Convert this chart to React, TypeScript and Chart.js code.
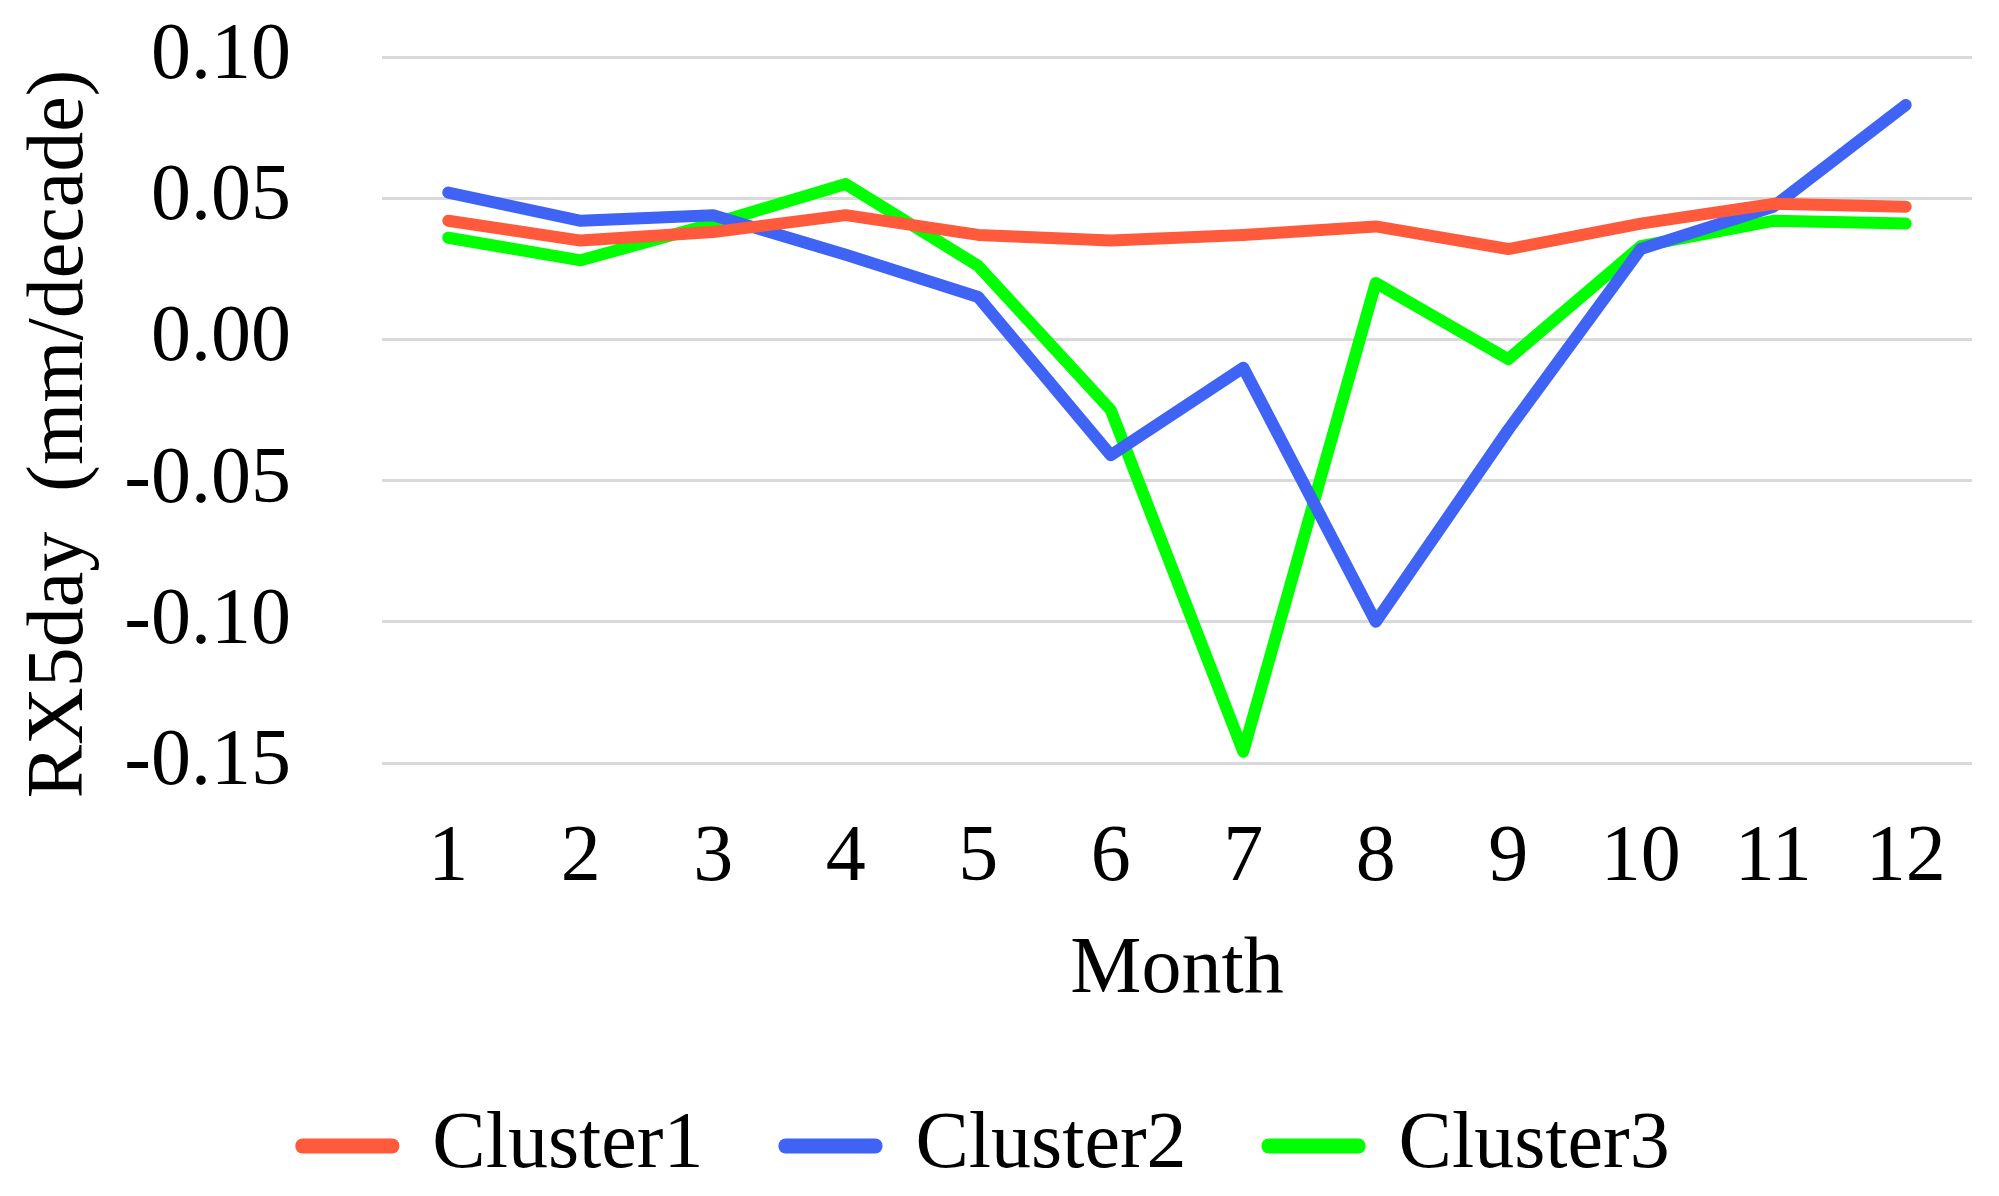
import React, { useEffect, useRef } from "react";
import { Chart, registerables } from "chart.js";

Chart.register(...registerables);

const months = ["1", "2", "3", "4", "5", "6", "7", "8", "9", "10", "11", "12"];
const cluster1 = [0.042, 0.035, 0.038, 0.044, 0.037, 0.035, 0.037, 0.040, 0.032, 0.041, 0.048, 0.047];
const cluster2 = [0.052, 0.042, 0.044, 0.030, 0.015, -0.041, -0.010, -0.100, -0.032, 0.032, 0.047, 0.083];
const cluster3 = [0.036, 0.028, 0.041, 0.055, 0.026, -0.025, -0.146, 0.020, -0.007, 0.033, 0.042, 0.041];
const seriesNames = ["Cluster1", "Cluster2", "Cluster3"];
const seriesColors = ["#FF5A3C", "#3F63F5", "#00FF00"];
const yTitle = "RX5day  (mm/decade)";
const xTitle = "Month";

const FONT = "'Liberation Serif', 'Times New Roman', serif";

export default function App() {
  const ref = useRef<HTMLCanvasElement | null>(null);

  useEffect(() => {
    document.body.style.margin = "0";
    const canvas = ref.current;
    if (!canvas) return;

    const yTitlePlugin = {
      id: "yTitlePlugin",
      afterDraw(chart: any) {
        const { ctx, chartArea } = chart;
        ctx.save();
        ctx.translate(61, (chartArea.top + chartArea.bottom) / 2 + 24);
        ctx.rotate(-Math.PI / 2);
        ctx.font = `80px ${FONT}`;
        ctx.fillStyle = "#000";
        ctx.textAlign = "center";
        ctx.textBaseline = "middle";
        ctx.fillText(yTitle, 0, 0);
        ctx.restore();
      },
    };

    const datas = [cluster1, cluster2, cluster3];
    const chart = new Chart(canvas, {
      type: "line",
      data: {
        labels: months,
        datasets: datas.map((d, i) => ({
          label: seriesNames[i],
          data: d,
          borderColor: seriesColors[i],
          backgroundColor: seriesColors[i],
          borderWidth: 12,
          pointRadius: 0,
          pointHoverRadius: 0,
          tension: 0,
          borderCapStyle: "round" as const,
          borderJoinStyle: "round" as const,
        })),
      },
      options: {
        responsive: false,
        animation: false,
        devicePixelRatio: 1,
        layout: { padding: { left: 0, right: 27, top: 57, bottom: 0 } },
        plugins: {
          tooltip: { enabled: false },
          title: { display: false },
          legend: {
            display: true,
            position: "bottom",
            labels: {
              font: { family: FONT, size: 80 },
              color: "#000",
              boxWidth: 90,
              boxHeight: 1,
              padding: 2,
              generateLabels: (ch: any) =>
                ch.data.datasets.map((ds: any, i: number) => ({
                  text: ds.label + (i < ch.data.datasets.length - 1 ? "    " : ""),
                  fillStyle: ds.borderColor,
                  strokeStyle: ds.borderColor,
                  lineWidth: 14,
                  lineCap: "round",
                  lineJoin: "round",
                  hidden: false,
                  datasetIndex: i,
                  fontColor: "#000",
                })),
            },
          },
        },
        scales: {
          x: {
            type: "category",
            offset: true,
            grid: { display: false, drawTicks: false },
            border: { display: false },
            ticks: {
              font: { family: FONT, size: 80 },
              color: "#000",
              padding: 48,
              maxRotation: 0,
              autoSkip: false,
            },
            title: {
              display: true,
              text: xTitle,
              font: { family: FONT, size: 80 },
              color: "#000",
              padding: { top: 0, bottom: 85 },
            },
            afterFit: (scale: any) => {
              scale.height = 341;
            },
          },
          y: {
            min: -0.15,
            max: 0.1,
            grid: {
              color: "#D9D9D9",
              lineWidth: 3,
              drawTicks: true,
              tickLength: 91,
              tickColor: "rgba(0,0,0,0)",
              tickWidth: 0,
            },
            border: { display: false },
            ticks: {
              stepSize: 0.05,
              font: { family: FONT, size: 80 },
              color: "#000",
              padding: 0,
              callback: (v: any) => {
                const n = Math.abs(Number(v)) < 1e-9 ? 0 : Number(v);
                return n.toFixed(2);
              },
            },
            afterFit: (scale: any) => {
              scale.width = 382;
            },
          },
        },
      },
      plugins: [yTitlePlugin],
    });

    return () => chart.destroy();
  }, []);

  return (
    <div style={{ width: 1999, height: 1196, background: "#fff" }}>
      <canvas ref={ref} width={1999} height={1196} style={{ width: 1999, height: 1196, display: "block" }} />
    </div>
  );
}
